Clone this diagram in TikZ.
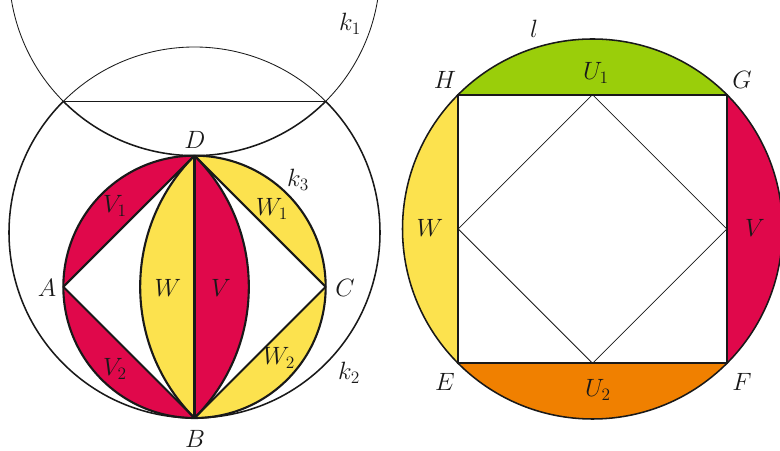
\documentclass[tikz,border=0pt]{standalone}
\usepackage{tikz}
\usetikzlibrary{calc}
\definecolor{lunRed}{RGB}{224,8,75}
\definecolor{lunYellow}{RGB}{252,226,78}
\definecolor{lunGreen}{RGB}{154,206,10}
\definecolor{lunOrange}{RGB}{240,128,0}
\definecolor{inkText}{RGB}{25,25,25}
\tikzset{
    heavy/.style={line width=1.5pt, draw=inkText},
    medium/.style={line width=1.1pt, draw=inkText},
    fine/.style={line width=0.6pt, draw=inkText},
    lbl/.style={font=\LARGE, scale=1.03, text=inkText, inner sep=0pt}
}

\begin{document}
\begin{tikzpicture}[x=0.025cm, y=0.025cm]
    \useasboundingbox (0,0) rectangle (780,451);
    % left figure: k2 (centre O), k1 (centre P), k3 (centre M)
    \coordinate (O) at (194.5,218.5);
    \coordinate (P) at ($(O)+(0,262.34)$);
    \coordinate (M) at ($(O)+(0,-54.33)$);
    \coordinate (D) at ($(O)+(0,76.83)$);
    \coordinate (B) at ($(O)+(0,-185.5)$);
    \coordinate (A) at ($(M)+(-131.17,0)$);
    \coordinate (C) at ($(M)+(131.17,0)$);
    \coordinate (I1) at ($(O)+(-131.17,131.17)$);
    \coordinate (I2) at ($(O)+(131.17,131.17)$);
    \fill[lunRed] (A) arc[start angle=180, end angle=90, radius=131.17] -- cycle;
    \fill[lunRed] (B) arc[start angle=270, end angle=180, radius=131.17] -- cycle;
    \fill[lunYellow] (D) arc[start angle=90, end angle=0, radius=131.17] -- cycle;
    \fill[lunYellow] (C) arc[start angle=0, end angle=-90, radius=131.17] -- cycle;
    \fill[lunYellow] (D) arc[start angle=135, end angle=225, radius=185.5] -- cycle;
    \fill[lunRed] (B) arc[start angle=-45, end angle=45, radius=185.5] -- cycle;
    \draw[fine] (I1) arc[start angle=225, end angle=184, radius=185.5];
    \draw[fine] (I2) arc[start angle=-45, end angle=-4, radius=185.5];
    \draw[medium] (I1) arc[start angle=225, end angle=315, radius=185.5];
    \draw[fine] (I2) arc[start angle=45, end angle=135, radius=185.5];
    \draw[medium] (I1) arc[start angle=135, end angle=405, radius=185.5];
    \draw[fine] (I1) -- (I2);
    \draw[heavy] (M) circle[radius=131.17];
    \draw[heavy] (D) arc[start angle=135, end angle=225, radius=185.5];
    \draw[heavy] (B) arc[start angle=-45, end angle=45, radius=185.5];
    \draw[heavy, line join=round] (A) -- (D) -- (C) -- (B) -- cycle;
    \draw[heavy] (D) -- (B);
    % right figure: l (centre Q), square EFGH
    \coordinate (Q) at (592.5,222);
    \coordinate (H) at ($(Q)+(-134.35,134.35)$);
    \coordinate (G) at ($(Q)+(134.35,134.35)$);
    \coordinate (E) at ($(Q)+(-134.35,-134.35)$);
    \coordinate (F) at ($(Q)+(134.35,-134.35)$);
    \coordinate (HG) at ($(H)!0.5!(G)$);
    \coordinate (GF) at ($(G)!0.5!(F)$);
    \coordinate (FE) at ($(F)!0.5!(E)$);
    \coordinate (EH) at ($(E)!0.5!(H)$);
    \fill[lunGreen] (G) arc[start angle=45, end angle=135, radius=190] -- cycle;
    \fill[lunYellow] (H) arc[start angle=135, end angle=225, radius=190] -- cycle;
    \fill[lunOrange] (E) arc[start angle=225, end angle=315, radius=190] -- cycle;
    \fill[lunRed] (F) arc[start angle=-45, end angle=45, radius=190] -- cycle;
    \draw[medium] (Q) circle[radius=190];
    \draw[fine] (HG) -- (GF) -- (FE) -- (EH) -- cycle;
    \draw[heavy] (E) rectangle (G);
    % labels
    \foreach \nm/\txt/\px/\py in {k1/{$k_1$}/350/427, dd/{$D$}/195/311, k3/{$k_3$}/298/271,
        v1/{$V_1$}/115/245, w1/{$W_1$}/272/242, aa/{$A$}/47/163, wl/{$W$}/168/163,
        vl/{$V$}/221/163, cc/{$C$}/345/163, w2/{$W_2$}/279/93, v2/{$V_2$}/115/82,
        k2/{$k_2$}/349/78, bb/{$B$}/195/12, ll/{$l$}/534/422, hh/{$H$}/445/371,
        u1/{$U_1$}/596/378, gg/{$G$}/742/371, wr/{$W$}/430/223, vr/{$V$}/755/223,
        ee/{$E$}/445/69, u2/{$U_2$}/598/61, ff/{$F$}/742/69} {
        \node[lbl] (t-\nm) at (\px,\py) {\txt};
    }
\end{tikzpicture}
\end{document}
